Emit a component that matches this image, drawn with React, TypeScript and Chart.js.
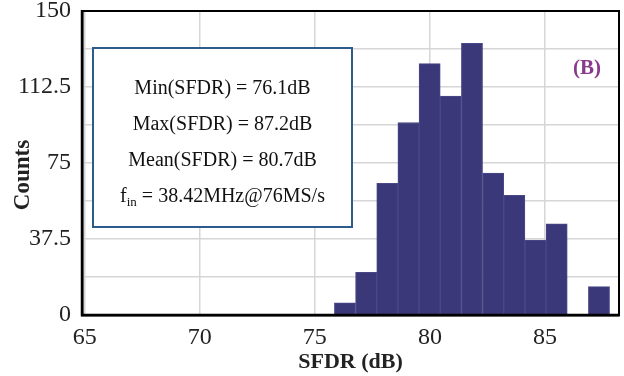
import React, { useEffect, useRef } from 'react';
import { Chart, registerables } from 'chart.js';

Chart.register(...registerables);

// ---- data ----
const binCenters = [76.31, 77.23, 78.15, 79.07, 79.99, 80.91, 81.83, 82.75, 83.67, 84.59, 85.51, 86.43, 87.35];
const counts = [6, 21, 65, 95, 124, 108, 134, 70, 59, 37, 45, 0, 14];
const xTickValues = [65, 70, 75, 80, 85];
const yLabelValues = [0, 37.5, 75, 112.5, 150];
const statLines = ['Min(SFDR) = 76.1dB', 'Max(SFDR) = 87.2dB', 'Mean(SFDR) = 80.7dB'];
const finMain = 'f';
const finSub = 'in';
const finRest = ' = 38.42MHz@76MS/s';
const panelLabel = '(B)';
const xTitle = 'SFDR (dB)';
const yTitle = 'Counts';

const SERIF = "'Liberation Serif', 'Times New Roman', serif";

const overlayPlugin = {
  id: 'overlayPlugin',
  afterDatasetsDraw(chart: any) {
    const { ctx, chartArea: a } = chart;
    ctx.save();
    // frame
    ctx.strokeStyle = '#000';
    ctx.lineWidth = 2;
    ctx.beginPath();
    ctx.moveTo(a.left, a.top);
    ctx.lineTo(a.right, a.top);
    ctx.lineTo(a.right, a.bottom);
    ctx.stroke();
    ctx.lineWidth = 2.5;
    ctx.beginPath();
    ctx.moveTo(a.left, a.top - 1);
    ctx.lineTo(a.left, a.bottom);
    ctx.lineTo(a.right + 1, a.bottom);
    ctx.stroke();

    // y axis title
    ctx.save();
    ctx.translate(23, 175);
    ctx.rotate(-Math.PI / 2);
    ctx.font = `bold 23px ${SERIF}`;
    ctx.fillStyle = '#222';
    ctx.textAlign = 'center';
    ctx.textBaseline = 'middle';
    ctx.fillText(yTitle, 0, 0);
    ctx.restore();

    // stats box
    const bx = a.left + 11;
    const by = a.top + 37;
    const bw = 259;
    const bh = 179;
    ctx.fillStyle = '#ffffff';
    ctx.fillRect(bx, by, bw, bh);
    ctx.strokeStyle = '#2d5b8c';
    ctx.lineWidth = 2;
    ctx.strokeRect(bx, by, bw, bh);

    const cx = bx + bw / 2;
    ctx.fillStyle = '#111111';
    ctx.font = `20px ${SERIF}`;
    ctx.textAlign = 'center';
    ctx.textBaseline = 'alphabetic';
    statLines.forEach((t, i) => {
      ctx.fillText(t, cx, by + 46 + i * 36);
    });
    // f_in line
    const baseY = by + 46 + 3 * 36;
    ctx.textAlign = 'left';
    ctx.font = `20px ${SERIF}`;
    const wMain = ctx.measureText(finMain).width;
    const wRest = ctx.measureText(finRest).width;
    ctx.font = `13px ${SERIF}`;
    const wSub = ctx.measureText(finSub).width;
    let x = cx - (wMain + wSub + wRest) / 2;
    ctx.font = `20px ${SERIF}`;
    ctx.fillText(finMain, x, baseY);
    x += wMain;
    ctx.font = `13px ${SERIF}`;
    ctx.fillText(finSub, x, baseY + 4);
    x += wSub;
    ctx.font = `20px ${SERIF}`;
    ctx.fillText(finRest, x, baseY);

    // panel label
    ctx.font = `bold 21px ${SERIF}`;
    ctx.fillStyle = '#8a3a8c';
    ctx.textAlign = 'center';
    ctx.textBaseline = 'middle';
    ctx.fillText(panelLabel, a.right - 32, a.top + 58);
    ctx.restore();
  },
};

export default function App() {
  const canvasRef = useRef<HTMLCanvasElement | null>(null);

  useEffect(() => {
    document.body.style.margin = '0';
    const canvas = canvasRef.current;
    if (!canvas) return;
    const chart = new Chart(canvas, {
      type: 'bar',
      data: {
        datasets: [
          {
            label: 'Counts',
            data: binCenters.map((c, i) => ({ x: c, y: counts[i] })),
            backgroundColor: '#3a3878',
            borderColor: '#4a4988',
            borderWidth: 1,
            barPercentage: 1,
            categoryPercentage: 1,
          },
        ],
      },
      options: {
        responsive: false,
        animation: false,
        devicePixelRatio: 1,
        layout: { padding: { top: 11, right: 5, bottom: 0, left: 0 } },
        plugins: {
          legend: { display: false },
          tooltip: { enabled: false },
        },
        scales: {
          x: {
            type: 'linear',
            offset: false,
            min: 64.88,
            max: 88.22,
            afterBuildTicks: (axis: any) => {
              axis.ticks = xTickValues.map((v) => ({ value: v }));
            },
            afterFit: (scale: any) => {
              scale.height = 61;
              scale.paddingLeft = 0;
              scale.paddingRight = 0;
            },
            ticks: {
              autoSkip: false,
              maxRotation: 0,
              padding: 8,
              color: '#222',
              font: { family: SERIF, size: 24 },
              callback: (v: any) => String(v),
            },
            grid: {
              offset: false,
              color: '#d6d6d6',
              lineWidth: 1.5,
              drawTicks: false,
            },
            border: { display: true, color: '#000', width: 2.5 },
            title: {
              display: true,
              text: xTitle,
              color: '#222',
              font: { family: SERIF, size: 22, weight: 'bold' },
              padding: { top: 0, bottom: 0 },
            },
          },
          y: {
            type: 'linear',
            min: 0,
            max: 150,
            afterFit: (scale: any) => {
              scale.width = 82;
              scale.paddingTop = 0;
              scale.paddingBottom = 0;
            },
            ticks: {
              stepSize: 18.75,
              padding: 11,
              color: '#222',
              font: { family: SERIF, size: 24 },
              callback: (v: any) => (yLabelValues.includes(Number(v)) ? String(v) : ''),
            },
            grid: {
              color: '#d6d6d6',
              lineWidth: 1.5,
              drawTicks: false,
            },
            border: { display: true, color: '#000', width: 2.5 },
            title: { display: false },
          },
        },
      },
      plugins: [overlayPlugin],
    } as any);
    return () => chart.destroy();
  }, []);

  return (
    <div style={{ width: 624, height: 376, background: '#fff' }}>
      <canvas ref={canvasRef} width={624} height={376} />
    </div>
  );
}
